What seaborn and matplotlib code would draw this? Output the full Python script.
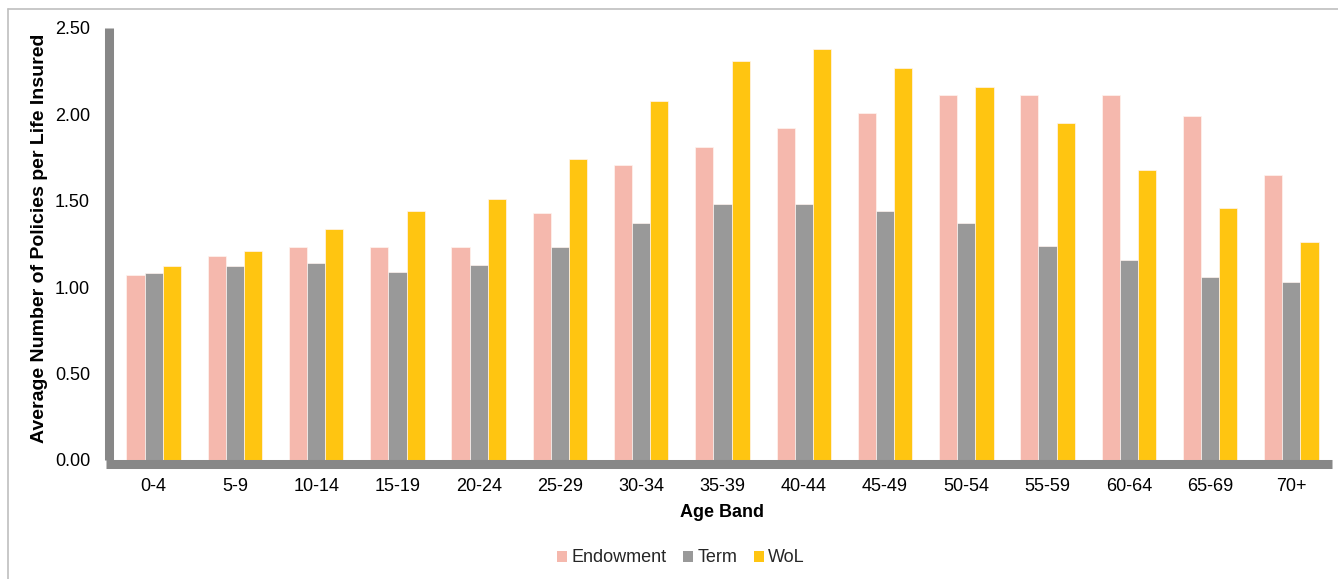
import matplotlib
matplotlib.use("Agg")
import matplotlib.pyplot as plt
from matplotlib.lines import Line2D
import seaborn as sns
import pandas as pd

age_bands = ["0-4", "5-9", "10-14", "15-19", "20-24", "25-29", "30-34", "35-39",
             "40-44", "45-49", "50-54", "55-59", "60-64", "65-69", "70+"]
endowment = [1.07, 1.18, 1.23, 1.23, 1.23, 1.43, 1.705, 1.81, 1.92, 2.01, 2.11, 2.11, 2.11, 1.99, 1.65]
term = [1.08, 1.12, 1.14, 1.09, 1.13, 1.23, 1.37, 1.48, 1.48, 1.44, 1.37, 1.24, 1.16, 1.06, 1.03]
wol = [1.12, 1.21, 1.335, 1.44, 1.51, 1.74, 2.08, 2.31, 2.38, 2.27, 2.16, 1.95, 1.68, 1.46, 1.26]
series_names = ["Endowment", "Term", "WoL"]
colors = ["#F5B8AD", "#999999", "#FFC511"]
y_ticks = [0.0, 0.5, 1.0, 1.5, 2.0, 2.5]

df = pd.DataFrame({
    "Age Band": age_bands * 3,
    "Series": [series_names[0]] * len(age_bands) + [series_names[1]] * len(age_bands) + [series_names[2]] * len(age_bands),
    "Value": endowment + term + wol,
})

sns.set_theme(style="white")
plt.rcParams["font.family"] = ["Liberation Sans", "DejaVu Sans"]

W, H = 1338, 579
fig = plt.figure(figsize=(W / 100, H / 100), dpi=100)
ax = fig.add_axes([113 / W, 1 - 460 / H, (1332 - 113) / W, (460 - 28) / H])

sns.barplot(data=df, x="Age Band", y="Value", hue="Series", order=age_bands,
            hue_order=series_names, palette=colors, saturation=1, width=0.67, gap=0,
            edgecolor="#fff4f0", linewidth=0.5, ax=ax, legend=False)

ax.set_xlim(-0.5, len(age_bands) - 0.5)
ax.set_ylim(0, 2.5)
ax.set_yticks(y_ticks)
ax.set_yticklabels([f"{t:.2f}" for t in y_ticks])
ax.tick_params(axis="both", length=0, labelsize=13, colors="#000000")
ax.tick_params(axis="y", pad=13.3)
ax.tick_params(axis="x", pad=10)

for s in ["top", "right"]:
    ax.spines[s].set_visible(False)
for s in ["left", "bottom"]:
    ax.spines[s].set_visible(True)
    ax.spines[s].set_color("#878787")
    ax.spines[s].set_linewidth(6.5)
    ax.spines[s].set_position(("outward", 3.2))
    ax.spines[s].set_capstyle("butt")
ax.spines["bottom"].set_bounds(-0.5 - 7 / 81.3, len(age_bands) - 0.5)

ax.set_xlabel("Age Band", fontsize=13, fontweight="bold", color="#000000", labelpad=6)
ax.set_ylabel("Average Number of Policies per Life Insured", fontsize=14,
              fontweight="bold", color="#000000")
ax.yaxis.set_label_coords(-(113 - 48) / (1332 - 113), (460 - 238) / 432)

handles = [plt.Rectangle((0, 0), 1, 1, facecolor=c, edgecolor="none") for c in colors]
fig.legend(handles, series_names, loc="center", bbox_to_anchor=(681 / W, 1 - 558 / H),
           ncol=3, frameon=False, fontsize=13, handlelength=0.55, handleheight=0.55,
           handletextpad=0.25, columnspacing=0.9)

# outer chart-area border (left and top)
fig.add_artist(Line2D([8 / W, 8 / W], [0, 1 - 9 / H], transform=fig.transFigure,
                      color="#bfbfbf", linewidth=1.2))
fig.add_artist(Line2D([8 / W, 1], [1 - 9 / H, 1 - 9 / H], transform=fig.transFigure,
                      color="#bfbfbf", linewidth=1.2))

fig.savefig("out.png", dpi=100)
